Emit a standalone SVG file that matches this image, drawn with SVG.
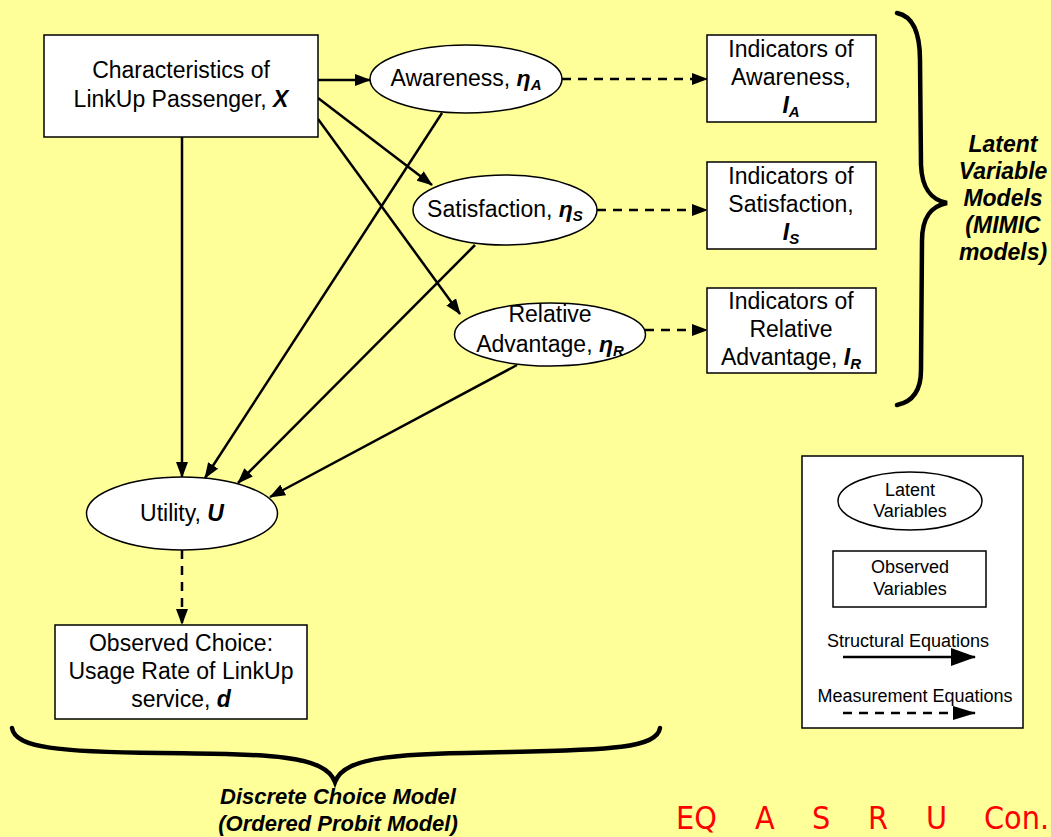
<svg xmlns="http://www.w3.org/2000/svg" width="1051" height="837" viewBox="0 0 1051 837">
<defs>
<style>
.box{fill:#fff;stroke:#000;stroke-width:1.5}
.t{font-family:'Liberation Sans',Arial,sans-serif;font-size:23px;text-anchor:middle;fill:#000}
.lg{font-family:'Liberation Sans',Arial,sans-serif;font-size:18px;text-anchor:middle;fill:#000}
.bi{font-weight:bold;font-style:italic}
.sub{font-size:15px}
.conn{stroke:#000;stroke-width:2.5;fill:none}
.dash{stroke-dasharray:9 7}
.brace{stroke:#000;stroke-width:4.5;fill:none;stroke-linecap:round}
</style>
<marker id="ah" viewBox="0 0 16 12" markerWidth="16" markerHeight="12" refX="15" refY="6" orient="auto" markerUnits="userSpaceOnUse"><path d="M0,0 L16,6 L0,12 z" fill="#000"/></marker>
<marker id="ahL" viewBox="0 0 25 18" markerWidth="25" markerHeight="18" refX="24" refY="9" orient="auto" markerUnits="userSpaceOnUse"><path d="M0,0 L25,9 L0,18 z" fill="#000"/></marker>
<marker id="ahM" viewBox="0 0 23 14" markerWidth="23" markerHeight="14" refX="22" refY="7" orient="auto" markerUnits="userSpaceOnUse"><path d="M0,0 L23,7 L0,14 z" fill="#000"/></marker>
</defs>
<rect x="0" y="0" width="1051" height="837" fill="#FFFF99"/>

<g id="connectors">
<line class="conn" x1="318" y1="80" x2="370" y2="80" marker-end="url(#ah)"/>
<line class="conn" x1="318" y1="98" x2="432" y2="185" marker-end="url(#ah)"/>
<line class="conn" x1="318" y1="119" x2="460" y2="314" marker-end="url(#ah)"/>
<line class="conn" x1="182" y1="137" x2="182" y2="477" marker-end="url(#ah)"/>
<line class="conn" x1="442" y1="113" x2="205" y2="478" marker-end="url(#ah)"/>
<line class="conn" x1="475" y1="245" x2="238" y2="483" marker-end="url(#ah)"/>
<line class="conn" x1="517" y1="365" x2="270" y2="497" marker-end="url(#ah)"/>
<line class="conn dash" x1="562" y1="79" x2="707" y2="79" stroke-width="2" marker-end="url(#ah)"/>
<line class="conn dash" x1="597" y1="210" x2="707" y2="210" stroke-width="2" marker-end="url(#ah)"/>
<line class="conn dash" x1="645" y1="330" x2="707" y2="330" stroke-width="2" marker-end="url(#ah)"/>
<line class="conn dash" x1="182" y1="550" x2="182" y2="624" stroke-width="2" marker-end="url(#ah)"/>
</g>

<g id="node-x">
<rect class="box" x="44" y="35" width="274" height="102"/>
<text class="t" x="181" y="78">Characteristics of</text>
<text class="t" x="181" y="107">LinkUp Passenger, <tspan class="bi">X</tspan></text>
</g>

<g id="node-awareness">
<ellipse class="box" cx="466" cy="79" rx="96" ry="34"/>
<text class="t" x="466" y="86">Awareness, <tspan class="bi">η</tspan><tspan class="bi sub" dy="4">A</tspan></text>
</g>

<g id="node-satisfaction">
<ellipse class="box" cx="505" cy="210" rx="92" ry="35"/>
<text class="t" x="505" y="217">Satisfaction, <tspan class="bi">η</tspan><tspan class="bi sub" dy="4">S</tspan></text>
</g>

<g id="node-relative">
<ellipse class="box" cx="550" cy="334.5" rx="95.5" ry="31.5"/>
<text class="t" x="550" y="322">Relative</text>
<text class="t" x="550" y="352">Advantage, <tspan class="bi">η</tspan><tspan class="bi sub" dy="4">R</tspan></text>
</g>

<g id="node-ia">
<rect class="box" x="707" y="35" width="169" height="87"/>
<text class="t" x="791" y="57">Indicators of</text>
<text class="t" x="791" y="85">Awareness,</text>
<text class="t" x="791" y="113"><tspan class="bi">I</tspan><tspan class="bi sub" dy="4">A</tspan></text>
</g>

<g id="node-is">
<rect class="box" x="707" y="162" width="169" height="87"/>
<text class="t" x="791" y="184">Indicators of</text>
<text class="t" x="791" y="212">Satisfaction,</text>
<text class="t" x="791" y="240"><tspan class="bi">I</tspan><tspan class="bi sub" dy="4">S</tspan></text>
</g>

<g id="node-ir">
<rect class="box" x="707" y="288" width="169" height="85"/>
<text class="t" x="791" y="309">Indicators of</text>
<text class="t" x="791" y="337">Relative</text>
<text class="t" x="791" y="365">Advantage, <tspan class="bi">I</tspan><tspan class="bi sub" dy="4">R</tspan></text>
</g>

<g id="node-utility">
<ellipse class="box" cx="182" cy="513.5" rx="95.5" ry="36.5"/>
<text class="t" x="182" y="521">Utility, <tspan class="bi">U</tspan></text>
</g>

<g id="node-choice">
<rect class="box" x="55" y="625" width="252" height="94"/>
<text class="t" x="181" y="651">Observed Choice:</text>
<text class="t" x="181" y="679">Usage Rate of LinkUp</text>
<text class="t" x="181" y="707">service, <tspan class="bi">d</tspan></text>
</g>

<g id="brace-right">
<path class="brace" d="M897,13 C912,16 920,30 920,60 L921,165 C922,190 932,200 947,203 C932,206 922,216 922,241 L921,370 C921,392 912,402 897,405"/>
<text class="t bi" x="1003" y="152" font-size="22">Latent</text>
<text class="t bi" x="1003" y="179" font-size="22">Variable</text>
<text class="t bi" x="1003" y="206" font-size="22">Models</text>
<text class="t bi" x="1003" y="233" font-size="22">(MIMIC</text>
<text class="t bi" x="1003" y="260" font-size="22">models)</text>
</g>

<g id="brace-bottom">
<path class="brace" d="M12,728 C15,748 60,752 160,753 C270,754 325,755 335,782 C345,755 400,754 510,752 C610,750 657,748 660,728"/>
<text class="t bi" x="338" y="804" style="font-size:22px">Discrete Choice Model</text>
<text class="t bi" x="338" y="831" style="font-size:22px">(Ordered Probit Model)</text>
</g>

<g id="legend">
<rect class="box" x="802" y="456" width="221" height="272"/>
<ellipse class="box" cx="910" cy="501" rx="72" ry="29"/>
<text class="lg" x="910" y="496">Latent</text>
<text class="lg" x="910" y="517">Variables</text>
<rect class="box" x="833" y="551" width="153" height="56"/>
<text class="lg" x="910" y="573">Observed</text>
<text class="lg" x="910" y="595">Variables</text>
<text class="lg" x="908" y="647">Structural Equations</text>
<line class="conn" x1="843" y1="657" x2="975" y2="657" marker-end="url(#ahL)"/>
<text class="lg" x="915" y="702">Measurement Equations</text>
<line class="conn dash" x1="843" y1="713" x2="975" y2="713" stroke-width="2" marker-end="url(#ahM)"/>
</g>

<g id="footer">
<text font-family="'Liberation Sans Narrow','DejaVu Sans Condensed',sans-serif" font-stretch="condensed" font-size="32" fill="#FF0000"><tspan x="676" y="829">EQ</tspan><tspan x="755" y="829">A</tspan><tspan x="812" y="829">S</tspan><tspan x="868" y="829">R</tspan><tspan x="926" y="829">U</tspan><tspan x="984" y="829">Con.</tspan></text>
</g>
</svg>
